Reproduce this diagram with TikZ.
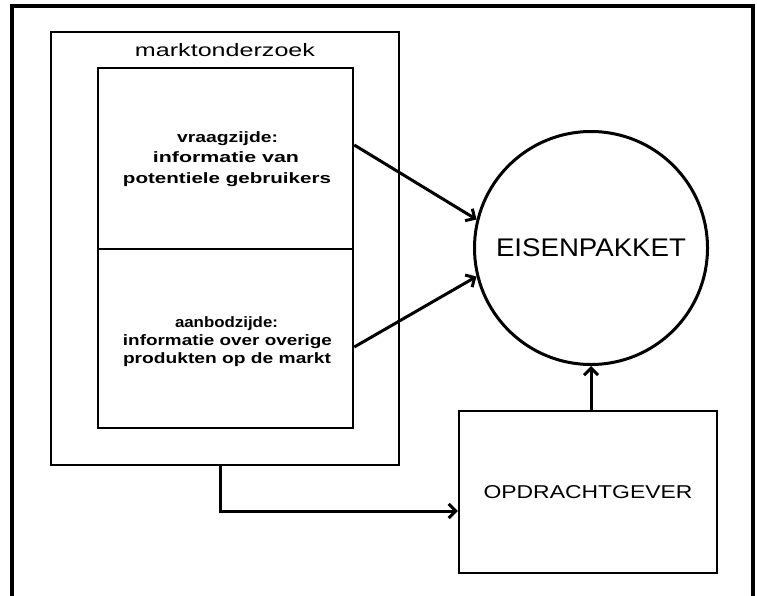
\documentclass[tikz,border=0pt]{standalone}
\usepackage{fontspec}
\setmainfont{Liberation Sans}
\usepackage{graphicx}
\usetikzlibrary{arrows.meta}
\newcommand\fitw[2]{\resizebox{#1pt}{\height}{#2}}
\tikzset{
  boxline/.style={draw, rectangle, inner sep=0pt, line width=2.5pt},
  outerbox/.style={draw, rectangle, inner sep=0pt, line width=2pt},
  frameline/.style={line width=3.5pt},
  arr/.style={-{Straight Barb[length=7pt,width=14pt]}, line width=3pt},
  smalltxt/.style={anchor=base, inner sep=0pt, font=\fontsize{15}{16}\selectfont\bfseries},
}
\begin{document}
\begin{tikzpicture}[x=1pt,y=-1pt]
\useasboundingbox (0,0) rectangle (757,596);
% outer frame
\draw[frameline] (12,596) -- (12,6) -- (753,6) -- (753,596);
% marktonderzoek box
\node[outerbox, minimum width=348pt, minimum height=433pt] (mo) at (225,248.5) {};
\node[anchor=base, inner sep=0pt, font=\fontsize{18}{20}\selectfont] (lbl) at (225,57) {\fitw{180}{marktonderzoek}};
% inner halves
\node[boxline, minimum width=255pt, minimum height=181pt] (vz) at (225.5,158.5) {};
\node[boxline, minimum width=255pt, minimum height=179pt] (az) at (225.5,338.5) {};
\node[smalltxt] (v1) at (227.5,143) {\fitw{101}{vraagzijde:}};
\node[smalltxt] (v2) at (226,163) {\fitw{146}{informatie van}};
\node[smalltxt] (v3) at (227,183) {\fitw{208}{potentiele gebruikers}};
\node[smalltxt] (a1) at (226.5,327) {\fitw{103}{aanbodzijde:}};
\node[smalltxt] (a2) at (227.5,345) {\fitw{209}{informatie over overige}};
\node[smalltxt] (a3) at (227,363) {\fitw{208}{produkten op de markt}};
% circle
\node[draw, circle, inner sep=0pt, minimum size=233pt, line width=3pt,
      font=\fontsize{25.5}{28}\selectfont] (ep) at (591,248) {\fitw{190}{EISENPAKKET}};
% opdrachtgever
\node[boxline, minimum width=258pt, minimum height=162pt,
      font=\fontsize{18.6}{20}\selectfont] (od) at (588,492) {\fitw{209}{OPDRACHTGEVER}};
% connectors
\coordinate (s1) at (353,145);
\coordinate (s2) at (353,347);
\draw[arr] (vz.east |- s1) -- (ep.166);
\draw[arr] (az.east |- s2) -- (ep.194);
\coordinate (bend) at (220,511);
\draw[arr] (bend |- mo.south) -- (bend) -- (bend -| od.west);
\draw[arr] (ep.south |- od.north) -- (ep.south);
\end{tikzpicture}
\end{document}
